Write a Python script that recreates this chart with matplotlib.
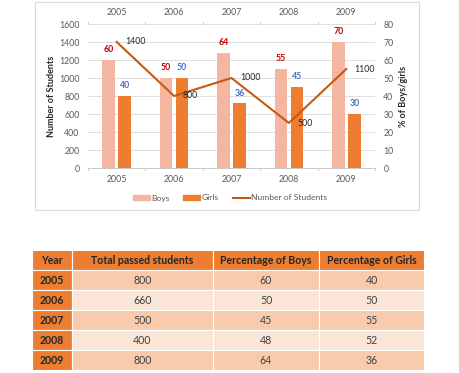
import matplotlib
matplotlib.use("Agg")
import matplotlib.pyplot as plt
from matplotlib.patches import Rectangle
from matplotlib.lines import Line2D
from matplotlib.patches import Patch
import numpy as np

plt.rcParams['font.family'] = ['Lato', 'DejaVu Sans']

# ---- chart data ----
years = ["2005", "2006", "2007", "2008", "2009"]
boys_pct = [60, 50, 64, 55, 70]
girls_pct = [40, 50, 36, 45, 30]
num_students = [1400, 800, 1000, 500, 1100]

# ---- table data ----
table_header = ["Year", "Total passed students", "Percentage of Boys", "Percentage of Girls"]
table_years = ["2005", "2006", "2007", "2008", "2009"]
table_total = [800, 660, 500, 400, 800]
table_boys = [60, 50, 45, 48, 64]
table_girls = [40, 50, 55, 52, 36]

W, H = 459, 373
fig = plt.figure(figsize=(W / 100, H / 100), dpi=100)

def fx(px):
    return px / W

def fy(py):
    return 1 - py / H

# chart area border
fig.patches.append(Rectangle((fx(35), fy(210)), fx(419) - fx(35), fy(2) - fy(210),
                             transform=fig.transFigure, fill=False,
                             edgecolor="#d9d9d9", linewidth=0.8))

ax = fig.add_axes([fx(88), fy(168), fx(375) - fx(88), fy(24) - fy(168)])
ax2 = ax.twinx()
# line axis (ax) drawn above bars axis (ax2)
ax.set_zorder(ax2.get_zorder() + 1)
ax.patch.set_visible(False)

x = np.arange(len(years))
boys_c = "#f4b6a0"
girls_c = "#ed7d31"
line_c = "#c55a11"
bw = 0.22
off = 0.14
fs = 6.3

# bars on the right (percentage) axis
ax2.bar(x - off, boys_pct, width=bw, color=boys_c, zorder=2)
ax2.bar(x + off, girls_pct, width=bw, color=girls_c, zorder=2)
for i in range(len(years)):
    ax2.annotate(str(boys_pct[i]), (x[i] - off, boys_pct[i]), xytext=(0, 4),
                 textcoords="offset points", ha="center", va="bottom",
                 fontsize=fs, color="#c00000", fontweight="bold")
    ax2.annotate(str(girls_pct[i]), (x[i] + off, girls_pct[i]), xytext=(0, 4),
                 textcoords="offset points", ha="center", va="bottom",
                 fontsize=fs, color="#4472c4", fontweight="bold")

ax2.set_ylim(0, 80)
ax2.set_yticks(np.arange(0, 81, 10))
ax2.yaxis.grid(True, color="#d9d9d9", linewidth=0.6, zorder=0)
ax2.set_axisbelow(True)
ax.set_ylim(0, 1600)
ax.set_yticks(np.arange(0, 1601, 200))
ax.set_xlim(-0.5, len(years) - 0.5)

ax.plot(x, num_students, color=line_c, linewidth=1.5, zorder=3)
for i in range(len(years)):
    ax.annotate(str(num_students[i]), (x[i], num_students[i]), xytext=(6, 0),
                textcoords="offset points", ha="left", va="center",
                fontsize=fs, color="#262626")

for a in (ax, ax2):
    for s in a.spines.values():
        s.set_visible(False)

ax.tick_params(axis="y", length=0, labelsize=fs, labelcolor="#595959", pad=6)
ax2.tick_params(axis="y", length=0, labelsize=fs, labelcolor="#595959", pad=6)
ax.set_xticks(x)
ax.set_xticklabels(years)
ax.tick_params(axis="x", length=0, labelsize=fs, labelcolor="#595959", pad=5)
ax.spines["bottom"].set_visible(True)
ax.spines["bottom"].set_color("#bfbfbf")
ax.spines["bottom"].set_linewidth(0.6)

# boundary tick marks (bottom and top)
for b in np.arange(-0.5, len(years), 1.0):
    ax.plot([b, b], [0, -25], color="#bfbfbf", linewidth=0.6, clip_on=False)
    ax.plot([b, b], [1600, 1625], color="#bfbfbf", linewidth=0.6, clip_on=False)

# top year labels
axt = ax.secondary_xaxis("top")
axt.set_xticks(x)
axt.set_xticklabels(years)
axt.tick_params(axis="x", length=0, labelsize=fs, labelcolor="#595959", pad=5)
axt.spines["top"].set_visible(False)

ax.set_ylabel("Number of Students", fontsize=6.5, fontweight="bold", color="#262626", labelpad=2)
ax2.set_ylabel("% of Boys/girls", fontsize=6.5, fontweight="bold", color="#262626", labelpad=4)

# legend
handles = [Patch(color=boys_c, label="Boys"), Patch(color=girls_c, label="Girls"),
           Line2D([0], [0], color=line_c, linewidth=1.5, label="Number of Students")]
fig.legend(handles=handles, loc="center", bbox_to_anchor=(fx(230), fy(198)), ncol=3,
           frameon=False, fontsize=6.1, handlelength=2.0, handleheight=0.6,
           handletextpad=0.2, columnspacing=1.6, labelcolor="#595959")

# ---- table ----
tax = fig.add_axes([fx(32), fy(370), fx(424) - fx(32), fy(250) - fy(370)])
tax.set_axis_off()
col_w = [40, 141, 106, 105]
total_w = sum(col_w)
col_edges = np.concatenate([[0], np.cumsum(col_w)]) / total_w
n_rows = len(table_years) + 1
row_h = 1.0 / n_rows
header_c = "#ed7d31"
dark_c = "#f8cbad"
light_c = "#fbe5d6"

rows = [table_header] + [[table_years[i], str(table_total[i]), str(table_boys[i]), str(table_girls[i])]
                         for i in range(len(table_years))]
for r, row in enumerate(rows):
    y0 = 1 - (r + 1) * row_h
    for c, txt in enumerate(row):
        if r == 0 or c == 0:
            fc = header_c
            weight = "bold"
            tc = "#262626"
        else:
            fc = dark_c if (r % 2 == 1) else light_c
            weight = "normal"
            tc = "#404040"
        tax.add_patch(Rectangle((col_edges[c], y0), col_edges[c + 1] - col_edges[c], row_h,
                                facecolor=fc, edgecolor="white", linewidth=0.8))
        tax.text((col_edges[c] + col_edges[c + 1]) / 2, y0 + row_h / 2, txt,
                 ha="center", va="center", fontsize=7.6, fontweight=weight, color=tc)
tax.set_xlim(0, 1)
tax.set_ylim(0, 1)

fig.savefig("out.png", dpi=100)
